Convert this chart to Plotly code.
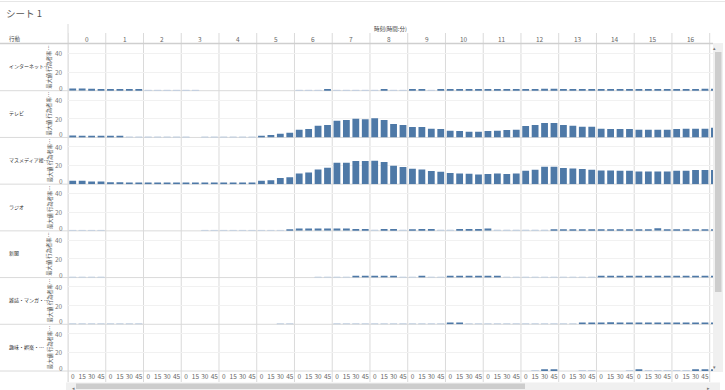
import plotly.graph_objects as go
from plotly.subplots import make_subplots

N = None
hours = list(range(18))
minutes = [0, 15, 30, 45]
activities = ["インターネット…", "テレビ", "マスメディア接…", "ラジオ", "新聞",
              "雑誌・マンガ・…", "趣味・娯楽・…"]
y_ticks = [0, 20, 40]

internet = [[2.5, 2.5, 2.0, 1.8], [1.3, 1.3, 1.3, 1.3], [0.5, 0.5, 0.5, 0.5], [0.5, 0.5, N, N],
            [N, N, N, N], [N, N, N, N], [0.5, 0.5, 0.5, 1.3], [0.5, 0.5, 0.5, 0.5],
            [0.5, 1.3, 0.5, 0.5], [1.3, 1.3, 0.5, 1.3], [1.3, 1.3, 1.3, 1.3], [1.3, 1.3, 1.3, 1.3],
            [1.3, 1.3, 2.0, 2.0], [1.3, 1.3, 1.3, 1.3], [1.3, 1.3, 1.3, 1.3], [1.3, 1.3, 1.3, 1.3],
            [1.3, 1.3, 1.3, 2.0], [2.0, 2.0, 2.0, 2.0]]
tv = [[2.0, 1.3, 1.3, 1.1], [1.1, 1.1, 0.5, 0.5], [0.5, 0.5, 0.5, 0.5], [0.5, N, 0.5, 0.5],
      [0.5, 0.5, 0.5, 0.5], [1.8, 2.5, 3.9, 5.0], [8.2, 9.0, 12.5, 13.3], [17.9, 18.6, 20.1, 19.4],
      [20.4, 18.6, 14.3, 13.3], [11.1, 11.1, 9.3, 9.0], [7.2, 6.8, 6.1, 6.1], [6.8, 7.2, 7.9, 8.2],
      [12.2, 13.3, 15.4, 15.4], [13.3, 12.5, 11.5, 11.5], [9.3, 9.0, 9.0, 9.0], [8.2, 8.2, 8.2, 8.2],
      [9.0, 9.3, 9.3, 9.3], [10.4, 10.4, 10.4, 10.4]]
massmedia = [[3.6, 3.6, 2.9, 2.9], [2.1, 2.1, 1.8, 1.8], [1.2, 1.2, 1.2, 1.2], [1.2, 1.2, 1.2, 1.2],
             [1.2, 1.2, 1.3, 1.3], [3.6, 4.3, 6.5, 7.5], [11.5, 12.5, 15.8, 17.6],
             [22.9, 22.9, 24.7, 24.7], [25.1, 23.7, 19.7, 18.3], [16.5, 15.8, 14.0, 13.3],
             [11.8, 11.5, 11.1, 10.4], [10.8, 11.5, 10.8, 11.5], [14.3, 15.4, 18.6, 18.6],
             [17.2, 16.8, 16.1, 15.4], [14.7, 14.7, 14.3, 14.3], [13.6, 13.6, 13.6, 13.6],
             [14.3, 14.3, 15.1, 15.1], [15.1, 15.1, 15.1, 15.1]]
radio = [[0.5, 0.5, 0.5, 0.5], [N, N, N, N], [N, N, N, N], [N, N, 0.5, 0.5], [0.5, 0.5, 0.5, 0.5],
         [0.5, 0.5, 0.5, 1.3], [2.5, 2.5, 2.5, 2.5], [2.5, 2.5, 2.0, 2.0], [0.8, 2.0, 2.0, 0.8],
         [1.3, 2.0, 2.0, 0.8], [0.8, 2.0, 2.0, 2.0], [2.5, 0.8, 0.8, 0.8], [0.8, 0.8, 0.8, 1.3],
         [1.3, 1.3, 1.3, 1.3], [1.3, 1.3, 1.3, 1.3], [1.3, 1.3, 2.8, 1.3], [1.3, 1.3, 1.3, 1.3],
         [1.3, 1.3, 1.3, 1.3]]
newspaper = [[0.5, 0.5, 0.5, 0.5], [N, N, N, N], [N, N, N, N], [N, N, N, N], [N, N, N, N],
             [N, N, N, N], [N, N, 0.5, 0.5], [0.5, 0.5, 1.3, 1.3], [1.3, 1.3, 1.3, 0.5],
             [0.5, 1.3, 0.5, 0.5], [1.3, 1.3, 1.3, 1.3], [1.3, 1.3, 0.5, 0.5], [0.5, 0.5, 0.5, 0.5],
             [0.5, 0.5, 0.5, 0.5], [1.3, 1.3, 1.3, 1.3], [1.3, 1.3, 1.3, 1.3], [1.3, 1.3, 1.3, 1.3],
             [1.3, 1.3, 1.3, 1.3]]
magazine = [[0.5, 0.5, 0.5, 0.5], [0.5, 0.5, 0.5, 0.5], [N, N, N, N], [N, N, N, N], [N, N, N, N],
            [N, N, 0.5, 0.5], [N, N, N, N], [0.5, 0.5, 0.5, 0.5], [0.5, 0.5, 0.5, 0.5],
            [0.5, 0.5, 0.5, 0.5], [1.8, 1.8, 0.5, 0.5], [0.5, 0.5, 0.5, 0.5], [0.5, 0.5, 0.5, 0.5],
            [0.5, 0.5, 1.3, 1.3], [1.3, 2.3, 1.3, 1.3], [1.3, 1.3, 1.3, 1.3], [1.3, 1.3, 1.3, 1.3],
            [1.3, 1.3, 1.3, 1.3]]
hobby = [[N, N, N, N]] * 12 + [[N, 0.5, 1.3, 1.3], [N, N, 0.5, 0.5], [N, N, N, 0.5],
                               [1.8, 0.5, 0.5, 0.5], [0.5, 0.5, 1.3, 1.3], [1.3, 1.3, 1.3, 1.3]]

series = [internet, tv, massmedia, radio, newspaper, magazine, hobby]

DARK = "#4e79a7"
LIGHT = "#bfcddf"
GRID = "#dadada"
FONT = "Noto Sans CJK JP"

W, H = 725, 390
ML, MR, MT, MB = 68, 12, 44, 19
PW, PH = W - ML - MR, H - MT - MB


def px_x(px):
    return (px - ML) / PW


def px_y(py):
    return (H - MB - py) / PH


fig = make_subplots(rows=7, cols=1, shared_xaxes=True, vertical_spacing=0)

slot_x = [h * 4 + q for h in hours for q in range(len(minutes))]
slot_text = [str(m) for h in hours for m in minutes]

for i, (name, data) in enumerate(zip(activities, series), start=1):
    xs, ys = [], []
    for h, vals in zip(hours, data):
        for q, v in enumerate(vals):
            xs.append(h * 4 + q)
            ys.append(v)
    is_light = [v is not None and v < 1 for v in ys]
    colors = [LIGHT if lt else DARK for lt in is_light]
    lwidth = [0.8 if lt else 0 for lt in is_light]
    fig.add_trace(go.Bar(x=xs, y=ys, marker=dict(color=colors, line=dict(width=lwidth, color=colors)),
                         showlegend=False, hoverinfo="skip"), row=i, col=1)
    fig.update_yaxes(range=[0, 50], tickvals=y_ticks, showticklabels=False, automargin=False,
                     showgrid=True, gridcolor="#f1f1f1", gridwidth=1, zeroline=False,
                     showline=False, row=i, col=1)
    fig.update_xaxes(range=[-0.5, 67.85], showgrid=False, zeroline=False, showline=False,
                     showticklabels=(i == 7), tickvals=slot_x, ticktext=slot_text,
                     tickangle=0, automargin=False,
                     tickfont=dict(size=6.5, color="#666", family=FONT), ticks="",
                     row=i, col=1)

annotations = []
shapes = []
for i, name in enumerate(activities, start=1):
    yref = "y" if i == 1 else f"y{i}"
    annotations.append(dict(text=name, xref="paper", x=px_x(7), xanchor="left",
                            yref=f"{yref} domain", y=0.5, yanchor="middle", yshift=1,
                            showarrow=False, font=dict(size=5, color="#333", family=FONT)))
    annotations.append(dict(text="最大値 行為者率…", xref="paper", x=px_x(49.5), xanchor="center",
                            yref=f"{yref} domain", y=0.5, yanchor="middle", textangle=-90,
                            showarrow=False, font=dict(size=5.3, color="#555", family=FONT)))
    for t in y_ticks:
        annotations.append(dict(text=str(t), xref="paper", x=px_x(65), xanchor="right",
                                yref=yref, y=t, yanchor="middle", yshift=3 if t == 0 else 0,
                                showarrow=False, font=dict(size=6.5, color="#777", family=FONT)))
    dom = fig.layout[f"yaxis{'' if i == 1 else i}"].domain
    shapes.append(dict(type="line", xref="paper", yref="paper", x0=px_x(0), x1=1.0,
                       y0=dom[0], y1=dom[0], line=dict(color=GRID, width=1), layer="below"))

for h in hours:
    annotations.append(dict(text=str(h), xref="x7", x=h * 4 + 1.5, yref="paper", y=px_y(38.5),
                            yanchor="middle", showarrow=False,
                            font=dict(size=6.5, color="#666", family=FONT)))
    shapes.append(dict(type="line", xref="x7", yref="paper", x0=h * 4 - 0.5, x1=h * 4 - 0.5,
                       y0=px_y(382), y1=px_y(33), line=dict(color=GRID, width=1), layer="below"))

# left edge of panes and header rule
shapes.append(dict(type="line", xref="paper", yref="paper", x0=0, x1=0, y0=px_y(382), y1=px_y(24),
                   line=dict(color=GRID, width=1), layer="below"))
shapes.append(dict(type="line", xref="paper", yref="paper", x0=px_x(0), x1=1.0, y0=px_y(43.5),
                   y1=px_y(43.5), line=dict(color="#cfcfcf", width=1.5), layer="below"))
shapes.append(dict(type="line", xref="paper", yref="paper", x0=px_x(0), x1=px_x(725), y0=px_y(1.5),
                   y1=px_y(1.5), line=dict(color="#e6e6e6", width=1), layer="below"))

# scrollbars
shapes.append(dict(type="rect", xref="paper", yref="paper", x0=px_x(713), x1=px_x(723),
                   y0=px_y(372), y1=px_y(43), fillcolor="#f0f0f0", line=dict(width=0), layer="above"))
shapes.append(dict(type="rect", xref="paper", yref="paper", x0=px_x(715), x1=px_x(721.5),
                   y0=px_y(292), y1=px_y(52), fillcolor="#cdcdcd", line=dict(width=0), layer="above"))
shapes.append(dict(type="rect", xref="paper", yref="paper", x0=px_x(66), x1=px_x(720),
                   y0=px_y(390), y1=px_y(382.5), fillcolor="#f0f0f0", line=dict(width=0), layer="above"))
shapes.append(dict(type="rect", xref="paper", yref="paper", x0=px_x(76), x1=px_x(525),
                   y0=px_y(389), y1=px_y(383.5), fillcolor="#cdcdcd", line=dict(width=0), layer="above"))
for txt, x, y in [("▴", 718, 47.5), ("▾", 718, 366.5), ("◂", 70, 387), ("▸", 712, 387)]:
    annotations.append(dict(text=txt, xref="paper", x=px_x(x), yref="paper", y=px_y(y),
                            yanchor="middle", showarrow=False,
                            font=dict(size=5, color="#777", family=FONT)))

annotations.append(dict(text="時刻(時間:分)", xref="paper", x=0.5, yref="paper", y=px_y(28.5),
                        yanchor="middle", showarrow=False,
                        font=dict(size=5.5, color="#444", family=FONT)))
annotations.append(dict(text="行動", xref="paper", x=px_x(7), xanchor="left", yref="paper",
                        y=px_y(38.5), yanchor="middle", showarrow=False,
                        font=dict(size=5.5, color="#444", family=FONT)))
annotations.append(dict(text="シート 1", xref="paper", x=px_x(4), xanchor="left", yref="paper",
                        y=px_y(13), yanchor="middle", showarrow=False,
                        font=dict(size=9.5, color="#555", family=FONT)))

fig.update_layout(width=W, height=H, margin=dict(l=ML, r=MR, t=MT, b=MB),
                  paper_bgcolor="white", plot_bgcolor="rgba(0,0,0,0)", bargap=0.28,
                  annotations=annotations, shapes=shapes, font=dict(family=FONT))

fig.write_html("out.html", config={"displayModeBar": False},
               post_script="document.body.style.margin='0';document.body.style.padding='0';")
